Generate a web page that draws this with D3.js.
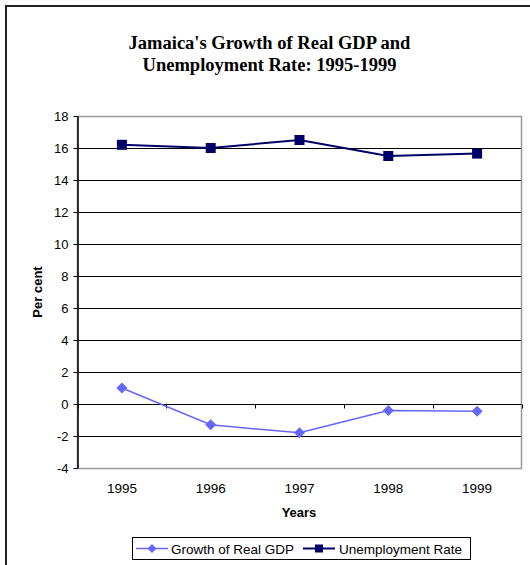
<!DOCTYPE html>
<html>
<head>
<meta charset="utf-8">
<script src="https://cdn.jsdelivr.net/npm/d3@7"></script>
<style>
  html, body { margin: 0; padding: 0; background: #fff; }
  svg { display: block; }
</style>
</head>
<body>
<script>
const years = ["1995", "1996", "1997", "1998", "1999"];
const gdpGrowth = [1.0, -1.3, -1.8, -0.4, -0.45];
const unemployment = [16.2, 16.0, 16.5, 15.5, 15.65];
const yTicks = [-4, -2, 0, 2, 4, 6, 8, 10, 12, 14, 16, 18];
const seriesNames = ["Growth of Real GDP", "Unemployment Rate"];
const seriesColors = ["#6666ff", "#000066"];

const W = 530, H = 565;
const FONT = "'Liberation Sans', Arial, sans-serif";
const svg = d3.select("body").append("svg").attr("width", W).attr("height", H);

// outer border (chart area frame)
svg.append("rect").attr("x", 6).attr("y", 6).attr("width", W + 10).attr("height", H + 10)
  .attr("fill", "none").attr("stroke", "#222").attr("stroke-width", 2);

const plot = { left: 77.5, right: 521.5, top: 116, bottom: 468 };

const x = d3.scaleBand().domain(years).range([plot.left, plot.right]);
const y = d3.scaleLinear().domain([-4, 18]).range([plot.bottom, plot.top]);

// title
const title = svg.append("text").attr("text-anchor", "middle")
  .attr("font-family", "'Liberation Serif', 'Times New Roman', serif")
  .attr("font-weight", "bold").attr("font-size", 18.5).attr("fill", "#000");
title.append("tspan").attr("x", 269.5).attr("y", 49).text("Jamaica's Growth of Real GDP and");
title.append("tspan").attr("x", 269.5).attr("y", 71).text("Unemployment Rate: 1995-1999");

// gridlines
svg.append("g").selectAll("line").data(yTicks.filter(v => v !== -4 && v !== 18)).join("line")
  .attr("x1", plot.left).attr("x2", plot.right)
  .attr("y1", d => Math.round(y(d)) + 0.5).attr("y2", d => Math.round(y(d)) + 0.5)
  .attr("stroke", "#000").attr("stroke-width", 1);

// plot border (grey)
svg.append("rect").attr("x", plot.left).attr("y", plot.top + 0.5)
  .attr("width", plot.right - plot.left).attr("height", plot.bottom - plot.top)
  .attr("fill", "none").attr("stroke", "#999").attr("stroke-width", 1.5);

// y axis
const yAxis = d3.axisLeft(y).tickValues(yTicks).tickSize(4).tickSizeOuter(0).tickPadding(5)
  .tickFormat(d => String(d));
const yg = svg.append("g").attr("transform", `translate(${plot.left},0)`).call(yAxis);
yg.select(".domain").attr("stroke", "#000").attr("stroke-width", 1.5);
yg.selectAll(".tick line").attr("stroke", "#000");
yg.selectAll("text").attr("font-family", FONT).attr("font-size", 13).attr("fill", "#000");

// x axis at zero line with boundary ticks
const xAxisG = svg.append("g").attr("transform", `translate(0,${Math.round(y(0)) + 0.5})`);
xAxisG.append("line").attr("x1", plot.left).attr("x2", plot.right).attr("stroke", "#000");
const bounds = years.map(d => x(d)).concat([x(years[years.length - 1]) + x.bandwidth()]);
xAxisG.selectAll("line.tk").data(bounds).join("line").attr("class", "tk")
  .attr("x1", d => Math.round(d) + 0.5).attr("x2", d => Math.round(d) + 0.5)
  .attr("y1", 0).attr("y2", 4).attr("stroke", "#000");

// x labels at bottom
svg.append("g").selectAll("text").data(years).join("text")
  .attr("x", d => x(d) + x.bandwidth() / 2).attr("y", 493)
  .attr("text-anchor", "middle").attr("font-family", FONT)
  .attr("font-size", 13.5).attr("fill", "#000").text(d => d);

// axis titles
svg.append("text").attr("x", 299).attr("y", 517).attr("text-anchor", "middle")
  .attr("font-family", FONT).attr("font-weight", "bold")
  .attr("font-size", 13).text("Years");
svg.append("text").attr("transform", "translate(42,292) rotate(-90)").attr("text-anchor", "middle")
  .attr("font-family", FONT).attr("font-weight", "bold")
  .attr("font-size", 13).text("Per cent");

// lines
const cx = d => x(d) + x.bandwidth() / 2;
const line = d3.line().x(d => cx(d.year)).y(d => y(d.value));
const series = [
  years.map((yr, i) => ({ year: yr, value: gdpGrowth[i] })),
  years.map((yr, i) => ({ year: yr, value: unemployment[i] }))
];
series.forEach((s, si) => {
  svg.append("path").datum(s).attr("d", line).attr("fill", "none")
    .attr("stroke", seriesColors[si]).attr("stroke-width", si === 0 ? 1.5 : 2);
  const g = svg.append("g");
  if (si === 0) {
    g.selectAll("path").data(s).join("path")
      .attr("transform", d => `translate(${cx(d.year)},${y(d.value)})`)
      .attr("d", "M0,-5.5L5.5,0L0,5.5L-5.5,0Z").attr("fill", seriesColors[si]);
  } else {
    g.selectAll("rect").data(s).join("rect")
      .attr("x", d => cx(d.year) - 5).attr("y", d => y(d.value) - 5)
      .attr("width", 10).attr("height", 10).attr("fill", seriesColors[si]);
  }
});

// legend
const leg = svg.append("g");
leg.append("rect").attr("x", 132.5).attr("y", 537.5).attr("width", 338).attr("height", 22)
  .attr("fill", "#fff").attr("stroke", "#000").attr("stroke-width", 1);
const legItems = [{ x0: 136, tx: 171 }, { x0: 303, tx: 339 }];
legItems.forEach((it, i) => {
  leg.append("line").attr("x1", it.x0).attr("x2", it.x0 + 32).attr("y1", 548.5).attr("y2", 548.5)
    .attr("stroke", seriesColors[i]).attr("stroke-width", i === 0 ? 1.5 : 2);
  if (i === 0) {
    leg.append("path").attr("transform", `translate(${it.x0 + 16},548.5)`)
      .attr("d", "M0,-4.5L4.5,0L0,4.5L-4.5,0Z").attr("fill", seriesColors[i]);
  } else {
    leg.append("rect").attr("x", it.x0 + 12).attr("y", 544.5).attr("width", 8).attr("height", 8)
      .attr("fill", seriesColors[i]);
  }
  leg.append("text").attr("x", it.tx).attr("y", 553.5)
    .attr("font-family", FONT).attr("font-size", 13.5)
    .text(seriesNames[i]);
});
</script>
</body>
</html>
